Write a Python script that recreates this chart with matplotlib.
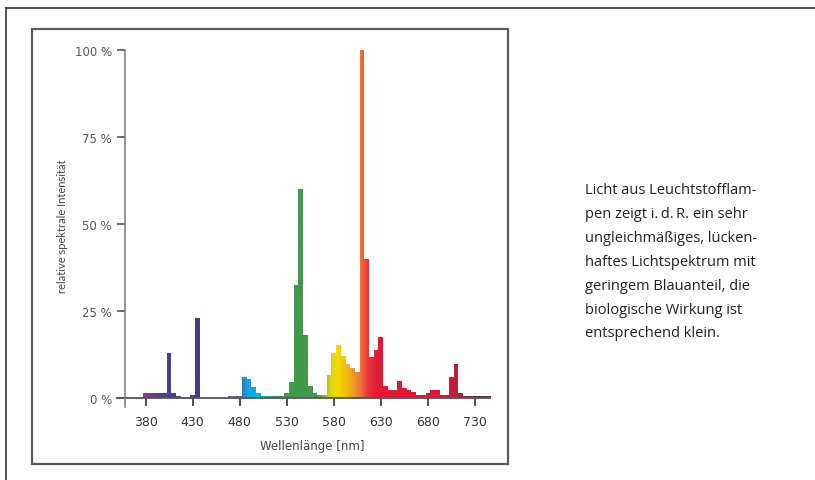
import numpy as np
import matplotlib
matplotlib.use("Agg")
import matplotlib.pyplot as plt
from matplotlib.colors import LinearSegmentedColormap
from matplotlib.patches import Rectangle
from matplotlib.path import Path

# spectrum of a fluorescent lamp, 5 nm bins (centre wavelength, % of max)
wavelengths = [380, 385, 390, 395, 400, 405, 410, 415,
               430, 435,
               470, 475, 480, 485, 490, 495, 500, 505, 510, 515, 520, 525,
               530, 535, 540, 545, 550, 555, 560, 565, 570,
               575, 580, 585, 590, 595, 600, 605, 610, 615, 620, 625, 630,
               635, 640, 645, 650, 655, 660, 665, 670, 675, 680, 685, 690,
               695, 700, 705, 710, 715, 720, 725, 730, 735, 740, 745]
intensity = [1.4, 1.4, 1.4, 1.4, 1.4, 13.0, 1.5, 0.7,
             1.0, 23.0,
             0.5, 0.5, 0.5, 6.0, 5.5, 3.3, 1.3, 0.5, 0.5, 0.5, 0.5, 0.5,
             1.5, 4.7, 32.5, 60.0, 18.0, 3.5, 1.5, 1.0, 1.0,
             6.5, 12.8, 15.3, 12.2, 9.8, 8.6, 7.6, 100.0, 40.0, 11.8, 13.8, 17.6,
             3.5, 2.2, 2.2, 5.0, 3.0, 2.2, 1.8, 1.0, 1.0, 1.4, 2.3, 2.3,
             1.0, 1.0, 6.0, 9.8, 1.4, 0.5, 0.5, 0.5, 0.5, 0.5, 0.5]

x_ticks = [380, 430, 480, 530, 580, 630, 680, 730]
y_ticks = [0, 25, 50, 75, 100]
y_ticklabels = ["0 %", "25 %", "50 %", "75 %", "100 %"]

caption = ("Licht aus Leuchtstofflam-\n"
           "pen zeigt i.\u2009d.\u2009R. ein sehr\n"
           "ungleichmäßiges, lücken-\n"
           "haftes Lichtspektrum mit\n"
           "geringem Blauanteil, die\n"
           "biologische Wirkung ist\n"
           "entsprechend klein.")

# colour stops along the wavelength axis
stops = [(375, "#8a3e8e"), (398, "#4c3f8e"), (440, "#3d3e8c"), (472, "#6b6f96"),
         (481, "#3470b8"), (486, "#1a9edc"), (497, "#05b3e6"), (506, "#2aa9ad"),
         (520, "#3c9b5a"), (530, "#3f9b48"), (562, "#3f9b48"), (569, "#86b834"),
         (576, "#dccf1c"), (583, "#f2da00"), (591, "#f1c208"), (601, "#ee9828"),
         (609, "#f06e3a"), (616, "#e6343a"), (626, "#e01a30"), (700, "#d41b36"),
         (713, "#b5203a"), (719, "#73292e"), (750, "#5c2a2a")]
lo, hi = stops[0][0], stops[-1][0]
spec_cmap = LinearSegmentedColormap.from_list(
    "spec", [((w - lo) / (hi - lo), c) for w, c in stops])

fig = plt.figure(figsize=(8.15, 4.81), dpi=100)
W, H = 815, 481

def fx(px):
    return px / W

def fy(py):
    return 1 - py / H

# page frame and chart box
fig.add_artist(plt.Line2D([fx(6), 1], [fy(9), fy(9)], color="#333333", lw=1.2))
fig.add_artist(plt.Line2D([fx(6), fx(6)], [fy(9), 0], color="#333333", lw=1.2))
fig.add_artist(Rectangle((fx(32), fy(465)), fx(508) - fx(32), fy(30) - fy(465),
                         transform=fig.transFigure, fill=False,
                         edgecolor="#5a5a5a", lw=1.6))

ax = fig.add_axes([fx(125), fy(399), fx(490) - fx(125), fy(51) - fy(399)])
ax.set_xlim(358.2, 746)
ax.set_ylim(0, 100)
for s in ax.spines.values():
    s.set_visible(False)

bar_colors = spec_cmap((np.array(wavelengths) - lo) / (hi - lo))
bars = ax.bar(wavelengths, intensity, width=5, color=bar_colors,
              linewidth=0, clip_on=False, zorder=2)

# smooth gradient clipped to the bars
clip = Path.make_compound_path(*[
    Path([(b.get_x(), 0), (b.get_x() + b.get_width(), 0),
          (b.get_x() + b.get_width(), b.get_height()), (b.get_x(), b.get_height()),
          (b.get_x(), 0)], closed=True) for b in bars])
grad = np.linspace(0, 1, 800).reshape(1, -1)
im = ax.imshow(grad, cmap=spec_cmap, aspect="auto", extent=[lo, hi, 0, 100.5],
               zorder=3, interpolation="bilinear")
im.set_clip_path(clip, ax.transData)
ax.set_xlim(358.2, 746)
ax.set_ylim(0, 100)

# axis lines
ax.plot([349.7, 746], [0, 0], color="#555555", lw=1.3, clip_on=False, zorder=4)
ax.plot([358.2, 358.2], [-2.6, 100], color="#777777", lw=1.1, clip_on=False, zorder=4)

ax.set_xticks(x_ticks)
ax.set_yticks(y_ticks)
ax.set_yticklabels(y_ticklabels)
ax.tick_params(axis="x", direction="out", length=5.5, width=1.3, color="#444444",
               pad=7, labelsize=9, labelcolor="#333333")
ax.tick_params(axis="y", direction="out", length=5.5, width=1.1, color="#444444",
               pad=4, labelsize=8.5, labelcolor="#555555")
for lab in ax.get_xticklabels() + ax.get_yticklabels():
    lab.set_family("DejaVu Sans")

fig.text(fx(312), fy(447), "Wellenlänge [nm]", ha="center", va="center",
         fontsize=8.5, color="#444444", family="DejaVu Sans")
fig.text(fx(62), fy(226), "relative spektrale Intensität", ha="center", va="center",
         rotation=90, fontsize=8, color="#444444", family="Lato")

fig.text(fx(585), fy(183), caption, ha="left", va="top", fontsize=10.5,
         color="#231f20", family=["Open Sans", "DejaVu Sans"], linespacing=1.81)

fig.savefig("out.png", dpi=100)
